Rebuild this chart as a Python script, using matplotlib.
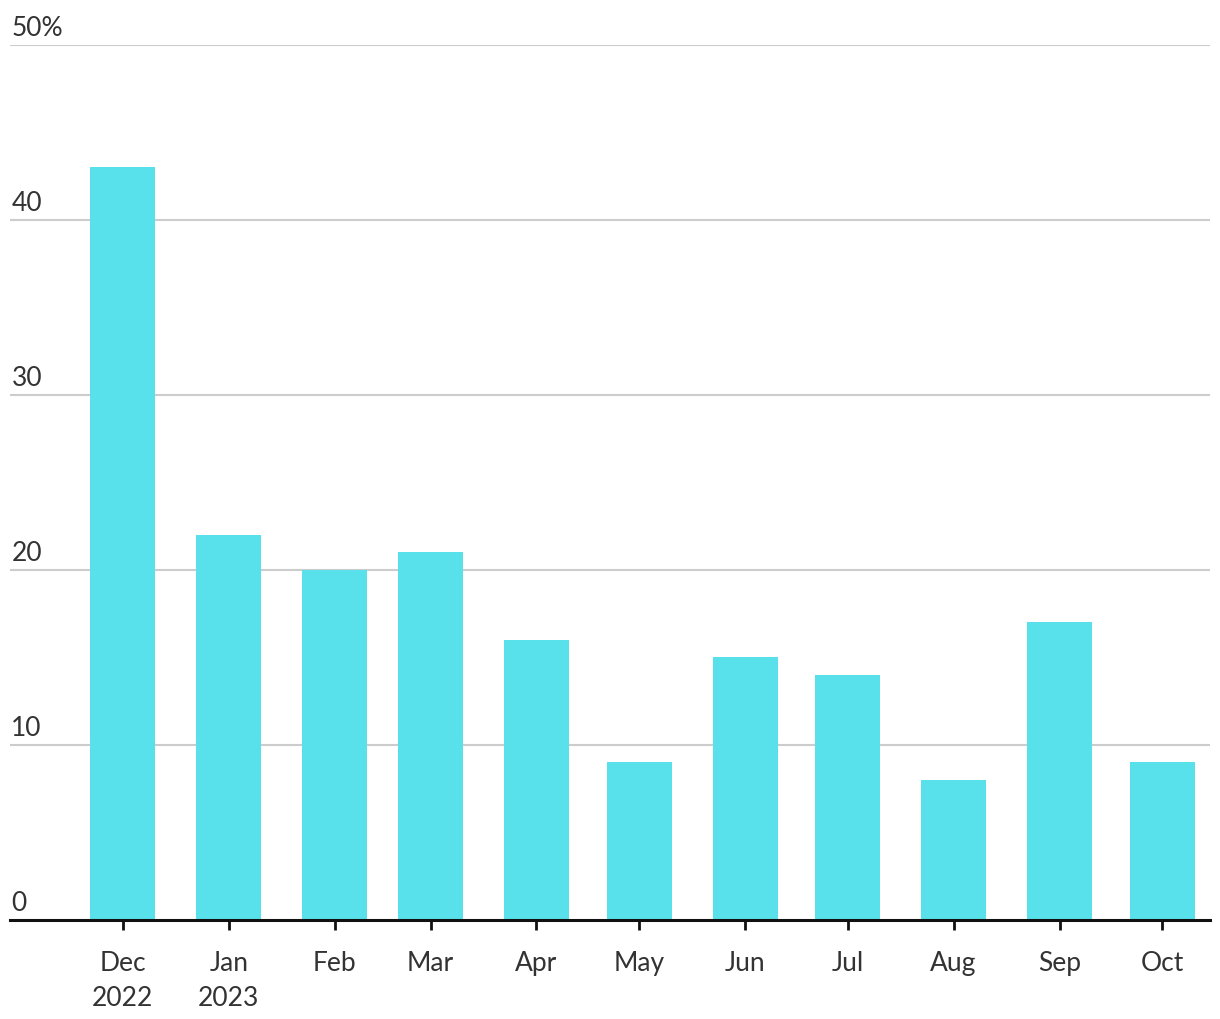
import datetime as dt
import matplotlib
matplotlib.use("Agg")
import matplotlib.pyplot as plt
import matplotlib.dates as mdates
import matplotlib.transforms as mtransforms

months = [dt.date(2022, 12, 1)] + [dt.date(2023, m, 1) for m in range(1, 11)]
labels = ["Dec\n2022", "Jan\n2023", "Feb", "Mar", "Apr", "May",
          "Jun", "Jul", "Aug", "Sep", "Oct"]
values = [43, 22, 20, 21, 16, 9, 15, 14, 8, 17, 9]
y_ticks = [0, 10, 20, 30, 40, 50]
y_labels = ["0", "10", "20", "30", "40", "50%"]

plt.rcParams["font.family"] = ["Lato", "DejaVu Sans"]

fig = plt.figure(figsize=(12.2, 10.2), dpi=100)
ax = fig.add_axes([10 / 1220, 1 - 920.5 / 1020, 1200 / 1220, (920.5 - 46) / 1020])

ax.bar(months, values, width=19, color="#58e1ea", zorder=2)

ax.set_xlim(dt.date(2022, 10, 29), dt.date(2023, 10, 15))
ax.set_ylim(0, 50)

# gridlines and labels sitting above them
for t, lab in zip(y_ticks, y_labels):
    if t > 0:
        ax.axhline(t, color="#cccccc", lw=1.5, zorder=1)
    trans = mtransforms.blended_transform_factory(ax.transAxes, ax.transData)
    ax.annotate(lab, xy=(0, t), xycoords=trans, xytext=(1, 3.5),
                textcoords="offset points", ha="left", va="bottom",
                fontsize=19, color="#333333")

ax.set_yticks([])
for s in ["left", "right", "top"]:
    ax.spines[s].set_visible(False)
ax.spines["bottom"].set_linewidth(2.2)
ax.spines["bottom"].set_color("#111111")
ax.spines["bottom"].set_zorder(3)

ax.set_xticks([mdates.date2num(m) for m in months])
ax.set_xticklabels(labels, fontsize=19, color="#333333", linespacing=1.5)
ax.tick_params(axis="x", length=7, width=2, color="#111111", pad=15)

fig.savefig("out.png", dpi=100)
